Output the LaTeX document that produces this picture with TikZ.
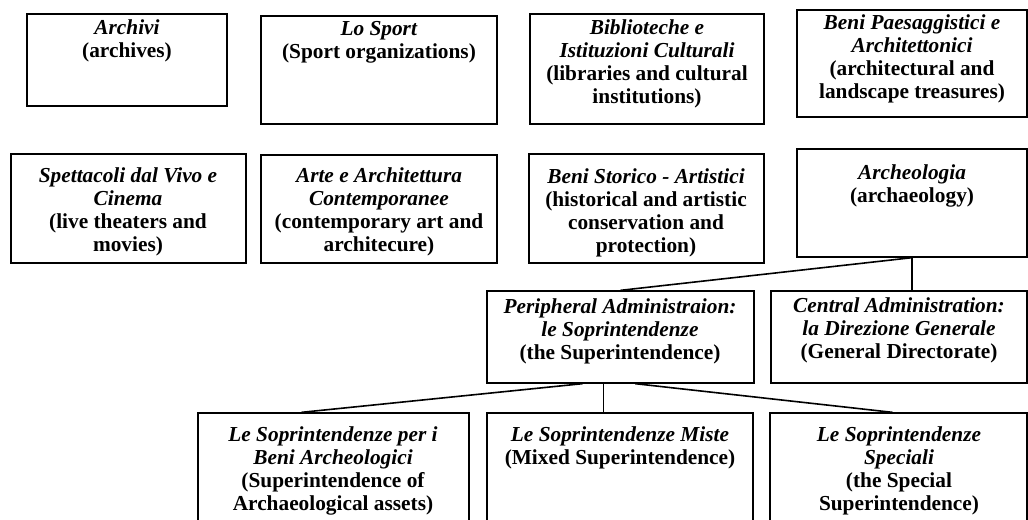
\documentclass[tikz,border=0pt]{standalone}
\usepackage{fontspec}
\setmainfont{Liberation Serif}
\usetikzlibrary{fit}
\begin{document}
\begin{tikzpicture}[x=0.75pt,y=-0.75pt,
  box/.style={draw=black, line width=1pt, inner sep=0pt},
  txt/.style={anchor=north, inner sep=0pt, align=center, font=\fontsize{16}{17.3}\selectfont\bfseries},
  conn/.style={draw=black, line width=1.2pt}]
\useasboundingbox (0,0) rectangle (1028,519);
\clip (0,0) rectangle (1028,519);
% row 1
\node[box, fit={(27,14) (227,106)}] (archivi) {};
\node[box, fit={(261,16) (497,124)}] (sport) {};
\node[box, fit={(530,14) (764,124)}] (biblio) {};
\node[box, fit={(797,10) (1027,117)}] (paesag) {};
% row 2
\node[box, fit={(11,154) (246,263)}] (spett) {};
\node[box, fit={(261,155) (497,263)}] (arte) {};
\node[box, fit={(529,154) (764,263)}] (storico) {};
\node[box, fit={(797,149) (1027,257)}] (arch) {};
% row 3
\node[box, fit={(487,291) (754,383)}] (peri) {};
\node[box, fit={(771,291) (1027,383)}] (central) {};
% row 4
\node[box, fit={(198,413) (469,535)}] (b1) {};
\node[box, fit={(487,413) (753,535)}] (b2) {};
\node[box, fit={(770,413) (1027,535)}] (b3) {};
% texts
\node[txt] (archivi-t) at (127,19) {\textit{Archivi}\\(archives)};
\node[txt] (sport-t) at (379,21) {\textit{Lo Sport}\\(Sport organizations)};
\node[txt] (biblio-t) at (647,19) {\textit{Biblioteche e}\\\textit{Istituzioni Culturali}\\(libraries and cultural\\institutions)};
\node[txt] (paesag-t) at (912,14) {\textit{Beni Paesaggistici e}\\\textit{Architettonici}\\(architectural and\\landscape treasures)};
\node[txt] (spett-t) at (128,167) {\textit{Spettacoli dal Vivo e}\\\textit{Cinema}\\(live theaters and\\movies)};
\node[txt] (arte-t) at (379,167) {\textit{Arte e Architettura}\\\textit{Contemporanee}\\(contemporary art and\\architecure)};
\node[txt] (storico-t) at (646,168) {\textit{Beni Storico - Artistici}\\(historical and artistic\\conservation and\\protection)};
\node[txt] (arch-t) at (912,164) {\textit{Archeologia}\\(archaeology)};
\node[txt] (peri-t) at (620,298) {\textit{Peripheral Administraion:}\\\textit{le Soprintendenze}\\(the Superintendence)};
\node[txt] (central-t) at (899,297) {\textit{Central Administration:}\\\textit{la Direzione Generale}\\(General Directorate)};
\node[txt] (b1-t) at (333,426) {\textit{Le Soprintendenze per i}\\\textit{Beni Archeologici}\\(Superintendence of\\Archaeological assets)};
\node[txt] (b2-t) at (620,426) {\textit{Le Soprintendenze Miste}\\(Mixed Superintendence)};
\node[txt] (b3-t) at (899,426) {\textit{Le Soprintendenze}\\\textit{Speciali}\\(the Special\\Superintendence)};
% connectors
\draw[conn] (arch.south) -- (peri.north);
\draw[conn] (arch.south) -- (arch.south |- central.north);
\draw[conn] ([xshift=-28.5pt]peri.south) -- ([xshift=-24pt]b1.north);
\coordinate (v) at ([xshift=-12.75pt]peri.south);
\draw[conn] (v) -- (v |- b2.north);
\draw[conn] ([xshift=11pt]peri.south) -- ([xshift=-4.5pt]b3.north);
\end{tikzpicture}
\end{document}
